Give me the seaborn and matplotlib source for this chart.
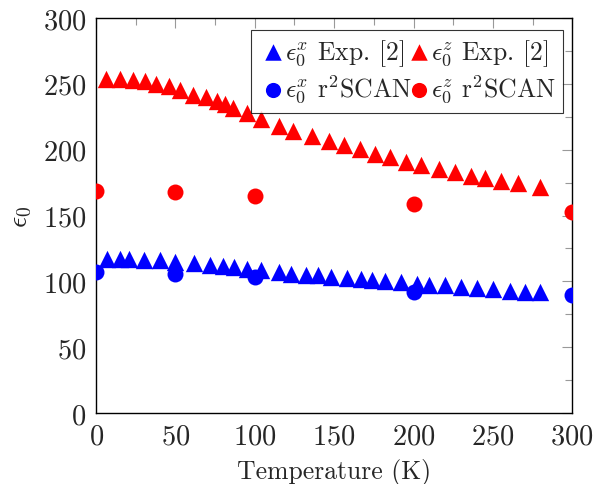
import numpy as np
import pandas as pd
import matplotlib
matplotlib.use("Agg")
import matplotlib.pyplot as plt
import seaborn as sns
from matplotlib.ticker import MultipleLocator

# Experimental dielectric constants (in-plane x and out-of-plane z)
exp_x_T = [7, 15, 21, 30, 40, 50, 62, 72, 80, 87, 95, 104, 115, 123, 132, 140, 148,
           158, 167, 174, 182, 192, 202, 210, 220, 230, 240, 250, 261, 270, 280]
exp_x_eps = [116.7, 116.7, 117.0, 116.5, 116.0, 114.8, 114.2, 112.6, 112.0, 110.8,
             109.7, 108.7, 107.4, 105.9, 105.1, 104.6, 103.5, 102.7, 101.7, 101.1,
             100.2, 99.3, 98.2, 97.4, 97.0, 95.9, 94.9, 93.9, 93.1, 92.1, 92.0]

exp_z_T = [6, 15, 23, 31, 38, 46, 53, 61, 69, 76, 81, 86, 95, 104, 115, 124, 136, 147,
           156, 166, 176, 185, 195, 205, 216, 226, 236, 245, 255, 266, 280]
exp_z_eps = [253.5, 253.5, 253.0, 252.0, 250.2, 248.4, 245.0, 241.7, 239.8, 237.0,
             235.0, 231.8, 227.7, 223.0, 218.0, 214.0, 210.0, 206.5, 203.6, 200.2,
             196.9, 194.4, 190.9, 188.0, 185.4, 183.2, 180.3, 178.4, 176.0, 174.7, 171.5]

# r2SCAN calculations
calc_T = [0, 50, 100, 200, 300]
calc_x_eps = [107.4, 106.0, 103.5, 92.0, 89.8]
calc_z_eps = [169.0, 167.5, 164.5, 159.0, 153.0]

labels = [r"$\epsilon_0^x$ Exp. [2]", r"$\epsilon_0^z$ Exp. [2]",
          r"$\epsilon_0^x$ r$^2$SCAN", r"$\epsilon_0^z$ r$^2$SCAN"]

sns.set_style("white")
plt.rcParams["font.family"] = "serif"
plt.rcParams["font.serif"] = ["cmr10", "DejaVu Serif"]
plt.rcParams["mathtext.fontset"] = "cm"
plt.rcParams["axes.formatter.use_mathtext"] = True
plt.rcParams["axes.unicode_minus"] = False

fig = plt.figure(figsize=(6.12, 4.85), dpi=100)
ax = fig.add_axes([0.157, 0.146, 0.778, 0.815])

tri = 12.5 ** 2
circ = 11.5 ** 2
sns.scatterplot(x=exp_x_T, y=exp_x_eps, marker="^", color="blue", s=tri,
                linewidth=0, ax=ax, label=labels[0], zorder=3)
sns.scatterplot(x=exp_z_T, y=exp_z_eps, marker="^", color="red", s=tri,
                linewidth=0, ax=ax, label=labels[1], zorder=3)
sns.scatterplot(x=calc_T, y=calc_x_eps, marker="o", color="blue", s=circ,
                linewidth=0, ax=ax, label=labels[2], zorder=4)
sns.scatterplot(x=calc_T, y=calc_z_eps, marker="o", color="red", s=circ,
                linewidth=0, ax=ax, label=labels[3], zorder=4)

ax.set_xlim(0, 300)
ax.set_ylim(0, 300)
ax.xaxis.set_major_locator(MultipleLocator(50))
ax.xaxis.set_minor_locator(MultipleLocator(25))
ax.yaxis.set_major_locator(MultipleLocator(50))
ax.yaxis.set_minor_locator(MultipleLocator(25))
ax.tick_params(which="both", direction="in", top=True, right=True,
               color="#999999", width=0.8)
ax.tick_params(which="major", length=7, labelsize=20.5)
ax.tick_params(axis="x", which="major", pad=7)
ax.tick_params(axis="y", which="major", pad=7)
ax.tick_params(which="minor", length=5)
for sp in ax.spines.values():
    sp.set_color("black")
    sp.set_linewidth(1.0)

ax.set_xlabel("Temperature (K)", fontsize=18.5, labelpad=6)
ax.set_ylabel(r"$\epsilon_0$", fontsize=20, labelpad=6)

# Legend rows: experiment on top, r2SCAN below (matplotlib fills column-wise)
handles, labs = ax.get_legend_handles_labels()
order = [0, 2, 1, 3]
leg = ax.legend([handles[i] for i in order], [labs[i] for i in order],
                ncol=2, loc="upper right", bbox_to_anchor=(0.981, 0.97),
                borderaxespad=0.0,
                fontsize=18.5, frameon=True, fancybox=False, edgecolor="black",
                handletextpad=-0.1, columnspacing=-0.25, borderpad=0.3,
                labelspacing=0.2, handlelength=1.1, markerscale=0.95)
leg.get_frame().set_linewidth(0.8)

fig.savefig("out.png", dpi=100)
